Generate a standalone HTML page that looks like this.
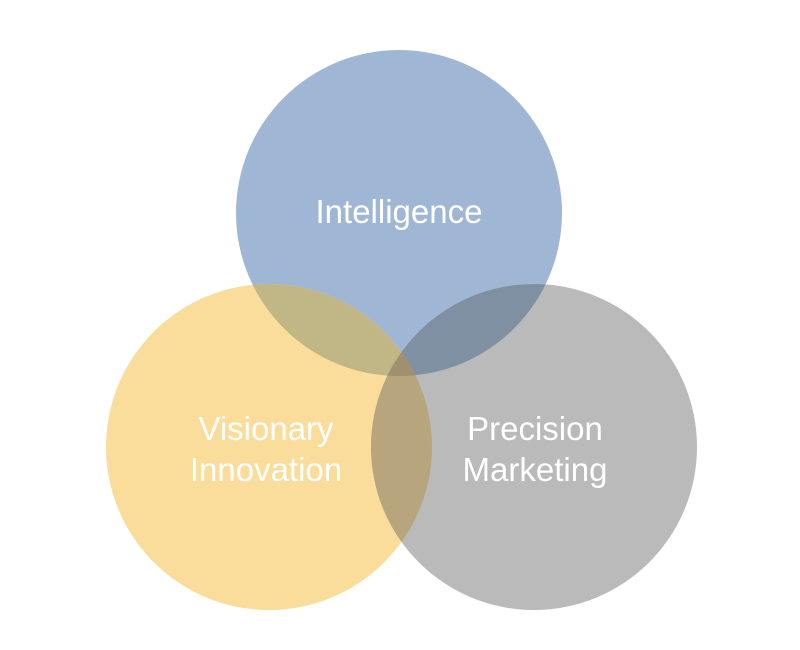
<!DOCTYPE html>
<html><head><style>html,body{margin:0;padding:0;background:#fff;}svg{display:block}</style></head>
<body>
<svg width="800" height="650" viewBox="0 0 800 650" xmlns="http://www.w3.org/2000/svg">
<defs>
<clipPath id="cT"><circle cx="399" cy="213" r="163"/></clipPath>
<clipPath id="cL"><circle cx="269" cy="447" r="163"/></clipPath>
<clipPath id="cR"><circle cx="534" cy="447" r="163"/></clipPath>
</defs>
<circle cx="399" cy="213" r="163" fill="#9fb6d4"/>
<circle cx="269" cy="447" r="163" fill="#fadc9b"/>
<circle cx="534" cy="447" r="163" fill="#bababa"/>
<g clip-path="url(#cT)"><circle cx="269" cy="447" r="163" fill="#c1b685"/><circle cx="534" cy="447" r="163" fill="#8090a3"/></g>
<g clip-path="url(#cL)"><circle cx="534" cy="447" r="163" fill="#b7a57e"/></g>
<g clip-path="url(#cT)"><g clip-path="url(#cL)"><circle cx="534" cy="447" r="163" fill="#a0906e"/></g></g>
<g font-family="Liberation Sans, sans-serif" font-size="33" fill="#fff" text-anchor="middle">
<text x="399" y="223">Intelligence</text>
<text x="266" y="440">Visionary</text>
<text x="266" y="481">Innovation</text>
<text x="535" y="440">Precision</text>
<text x="535" y="481">Marketing</text>
</g>
</svg>
</body></html>
